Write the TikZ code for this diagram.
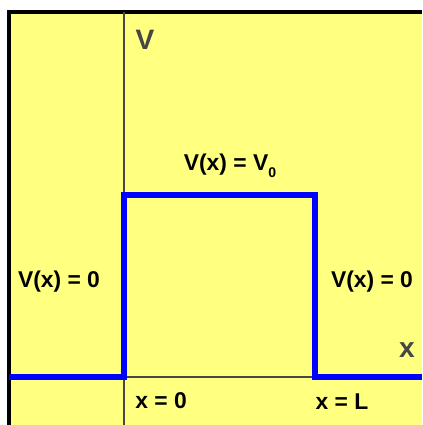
\documentclass[tikz,border=0pt]{standalone}
\usepackage{fontspec}
\setmainfont{Liberation Sans}
\usepackage{tikz}
\usetikzlibrary{positioning, calc}
\definecolor{bgyellow}{RGB}{255,255,128}
\definecolor{axisgray}{RGB}{70,70,70}

\begin{document}
\begin{tikzpicture}[
    x=0.02cm, y=-0.02cm,
    every node/.style={font=\fontsize{13}{15}\selectfont\bfseries, inner sep=0pt},
    axis/.style={draw=axisgray, line width=0.6pt},
    frame/.style={draw=black, line width=2.4pt},
    potential/.style={draw=blue, line width=3pt, line join=miter},
    axlabel/.style={font=\fontsize{16}{18}\selectfont\bfseries, text=axisgray}
]
    \useasboundingbox (0,0) rectangle (422,425);

    % --- background panel ---
    \fill[bgyellow] (9,12) rectangle (422,425);
    \coordinate (tl) at (9,12);
    \coordinate (tr) at (422,12);
    \coordinate (bl) at (9,425);
    \draw[frame] (bl) -- (tl) -- (tr);

    % --- axes ---
    \coordinate (ytop) at (124,12);
    \coordinate (ybot) at (124,425);
    \coordinate (xleft) at (9,377);
    \coordinate (xright) at (422,377);
    \draw[axis] (ytop) -- (ybot);
    \draw[axis] (xleft) -- (xright);
    \node[axlabel] (Vlab) at (145,40) {V};
    \node[axlabel] (xlab) at (407,350) {x};

    % --- potential barrier ---
    \coordinate (p0) at (9,377);
    \coordinate (p1) at (124,377);
    \coordinate (p2) at (124,195);
    \coordinate (p3) at (315,195);
    \coordinate (p4) at (315,377);
    \coordinate (p5) at (422,377);
    \draw[potential] (p0) -- (p1) -- (p2) -- (p3) -- (p4) -- (p5);

    % --- labels ---
    \node (Vtop) at (230,166) {V(x) = V\raisebox{-0.6ex}{\fontsize{8}{8}\selectfont 0}};
    \node (Vleft) at (59,282) {V(x) = 0};
    \node (Vright) at (372,282) {V(x) = 0};
    \node (x0) at (161,401) {x = 0};
    \node (xL) at (342,402) {x = L};

\end{tikzpicture}
\end{document}
